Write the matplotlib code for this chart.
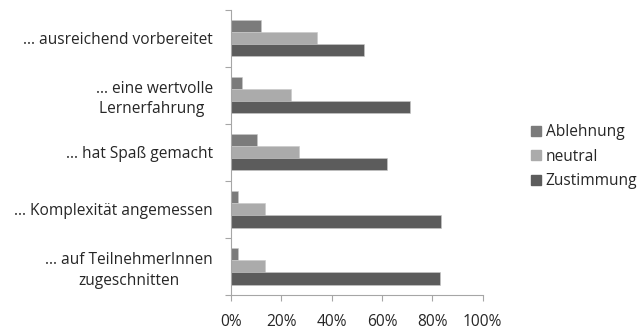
import matplotlib
matplotlib.use("Agg")
import matplotlib.pyplot as plt
from matplotlib.lines import Line2D
import numpy as np

categories = [
    "... ausreichend vorbereitet",
    "... eine wertvolle\nLernerfahrung ",
    "... hat Spaß gemacht",
    "... Komplexität angemessen",
    "... auf TeilnehmerInnen\nzugeschnitten",
]
series_names = ["Ablehnung", "neutral", "Zustimmung"]
ablehnung = [11.9, 4.4, 10.3, 2.8, 2.8]
neutral = [34.4, 23.9, 27.1, 13.6, 13.6]
zustimmung = [52.9, 71.2, 62.1, 83.5, 83.1]
xticks = [0, 20, 40, 60, 80, 100]
xtick_labels = ["0%", "20%", "40%", "60%", "80%", "100%"]

colors = ["#7b7b7b", "#ababab", "#5c5c5c"]
text_color = "#262626"
axis_color = "#a6a6a6"
fs = 11.2

plt.rcParams["font.family"] = ["Open Sans", "DejaVu Sans"]

fig = plt.figure(figsize=(6.41, 3.31), dpi=100)
ax = fig.add_axes([0.36, 0.109, 0.393, 0.862])

n = len(categories)
centers = np.arange(n)[::-1].astype(float)  # first category on top
bar_h = 0.213
values = [ablehnung, neutral, zustimmung]
for i, (vals, name, col) in enumerate(zip(values, series_names, colors)):
    y = centers + (1 - i) * bar_h
    ax.barh(y, vals, height=bar_h, color=col, edgecolor="#c8c8c8",
            linewidth=0.4, label=name)

ax.set_xlim(0, 100)
ax.set_ylim(-0.5, n - 0.5)
ax.set_xticks(xticks)
ax.set_xticklabels(xtick_labels, fontsize=fs, color=text_color)

# category labels centred between the separator ticks
ax.set_yticks(centers)
ax.set_yticklabels(categories, fontsize=fs, color=text_color,
                   multialignment="center", linespacing=1.35)
ax.tick_params(axis="y", length=0, pad=13)
ax.set_yticks(np.arange(n + 1) - 0.5, minor=True)
ax.tick_params(axis="y", which="minor", length=4, color=axis_color, width=0.8)
ax.tick_params(axis="x", length=4, color=axis_color, width=0.8, pad=10)

for side in ["top", "right"]:
    ax.spines[side].set_visible(False)
for side in ["left", "bottom"]:
    ax.spines[side].set_color(axis_color)
    ax.spines[side].set_linewidth(0.8)

handles = [Line2D([], [], marker="s", linestyle="none", markersize=7,
                  markerfacecolor=c, markeredgecolor=c) for c in colors]
fig.legend(handles, series_names, loc="center left",
           bbox_to_anchor=(0.828, 0.526), frameon=False, fontsize=fs,
           handlelength=0.7, handletextpad=0.25, labelspacing=0.55,
           labelcolor=text_color, borderpad=0, borderaxespad=0)

fig.savefig("out.png", dpi=100)
